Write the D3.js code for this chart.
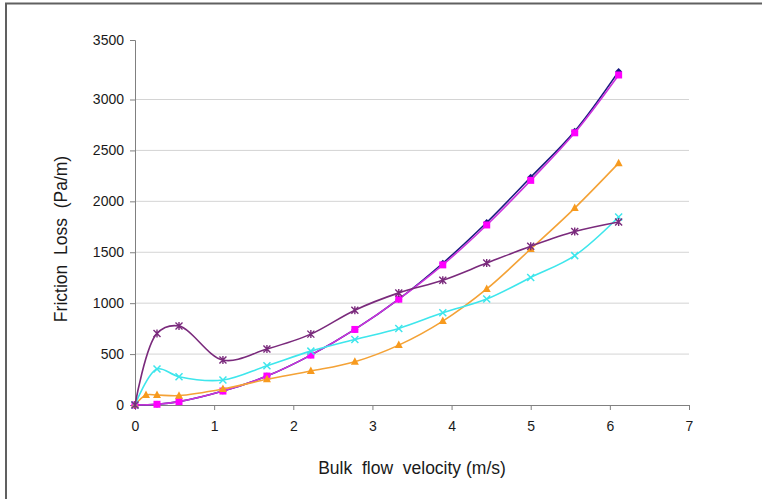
<!DOCTYPE html>
<html>
<head>
<meta charset="utf-8">
<script src="https://cdn.jsdelivr.net/npm/d3@7/dist/d3.min.js"></script>
<style>
  html, body { margin: 0; padding: 0; background: #fff; }
  svg { display: block; font-family: "Liberation Sans", Arial, sans-serif; }
</style>
</head>
<body>
<svg id="chart" width="762" height="499"></svg>
<script>
// ---- data ----
const velocity = [0, 0.278, 0.556, 1.111, 1.667, 2.222, 2.778, 3.333, 3.889, 4.444, 5.0, 5.556, 6.111];
const velocityOrange = [0, 0.139, 0.278, 0.556, 1.111, 1.667, 2.222, 2.778, 3.333, 3.889, 4.444, 5.0, 5.556, 6.111];
const navyValues    = [0, 7, 33, 137, 284, 490, 742, 1039, 1392, 1792, 2236, 2688, 3236];
const magentaValues = [0, 7, 33, 137, 284, 490, 742, 1039, 1376, 1768, 2206, 2673, 3206];
const orangeValues  = [0, 98, 98, 92, 157, 252, 333, 425, 588, 824, 1140, 1532, 1934, 2375];
const cyanValues    = [0, 353, 278, 245, 385, 529, 644, 752, 905, 1040, 1252, 1467, 1846];
const purpleValues  = [0, 703, 775, 441, 549, 696, 931, 1101, 1225, 1394, 1559, 1703, 1797];
const xTicks = [0, 1, 2, 3, 4, 5, 6, 7];
const yTicks = [0, 500, 1000, 1500, 2000, 2500, 3000, 3500];
const xTitle = "Bulk  flow  velocity (m/s)";
const yTitle = "Friction  Loss  (Pa/m)";

const series = [
  {xs: velocity, ys: navyValues, line: "#1a1a80", fill: "#1a1a80", marker: "diamond"},
  {xs: velocity, ys: magentaValues, line: "#cc33dd", fill: "#ff00ff", marker: "square"},
  {xs: velocityOrange, ys: orangeValues, line: "#f4a236", fill: "#f79a1e", marker: "triangle"},
  {xs: velocity, ys: cyanValues, line: "#3ee6ec", fill: "#3ee6ec", marker: "x"},
  {xs: velocity, ys: purpleValues, line: "#7a2a7c", fill: "#7a2a7c", marker: "star"}
];

// ---- layout ----
const svg = d3.select("#chart");
const x = d3.scaleLinear().domain([0, 7]).range([135, 689]);
// the picture's top interval (3000-3500) is drawn taller than the others
const y = d3.scaleLinear().domain([0, 3000, 3500]).range([405, 99.5, 40]);

// outer frame (left & top edges visible)
svg.append("path")
  .attr("d", "M6,499 L6,3.5 L762,3.5")
  .attr("fill", "none").attr("stroke", "#606060").attr("stroke-width", 2);

// gridlines
svg.append("g").selectAll("line").data(yTicks.filter(d => d > 0 && d < 3500)).join("line")
  .attr("x1", x(0)).attr("x2", x(7))
  .attr("y1", d => y(d)).attr("y2", d => y(d))
  .attr("stroke", "#d4d4d4").attr("stroke-width", 1);

// axes
const xAxis = d3.axisBottom(x).tickValues(xTicks).tickSize(5).tickPadding(11).tickFormat(d3.format("d"));
const gx = svg.append("g").attr("transform", `translate(0,${y(0)})`).call(xAxis);
const yAxis = d3.axisLeft(y).tickValues(yTicks).tickSize(5).tickPadding(6).tickFormat(d3.format("d"));
const gy = svg.append("g").attr("transform", `translate(${x(0)},0)`).call(yAxis);
[gx, gy].forEach(g => {
  g.select(".domain").attr("stroke", "#808080");
  g.selectAll(".tick line").attr("stroke", "#808080");
  g.selectAll(".tick text").attr("fill", "#1a1a1a").style("font-size", "14px")
    .style("font-family", "'Liberation Sans', Arial, sans-serif");
});

// titles
svg.append("text").attr("x", 412).attr("y", 474).attr("text-anchor", "middle")
  .style("white-space", "pre").style("font-size", "17.5px").attr("fill", "#1a1a1a").text(xTitle);
svg.append("text").attr("transform", "translate(67,239) rotate(-90)").attr("text-anchor", "middle")
  .style("white-space", "pre").style("font-size", "17.5px").attr("fill", "#1a1a1a").text(yTitle);

// series
const lineGen = d3.line().x(d => x(d[0])).y(d => y(d[1])).curve(d3.curveCatmullRom.alpha(0.5));
series.forEach(s => {
  const pts = s.xs.map((v, i) => [v, s.ys[i]]);
  const g = svg.append("g");
  g.append("path").attr("d", lineGen(pts)).attr("fill", "none")
    .attr("stroke", s.line).attr("stroke-width", 1.6);
  pts.forEach(p => {
    const cx = x(p[0]), cy = y(p[1]);
    if (s.marker === "square") {
      g.append("rect").attr("x", cx - 3.5).attr("y", cy - 3.5).attr("width", 7).attr("height", 7).attr("fill", s.fill);
    } else if (s.marker === "diamond") {
      g.append("path").attr("d", `M${cx},${cy-3.5}L${cx+3.5},${cy}L${cx},${cy+3.5}L${cx-3.5},${cy}Z`).attr("fill", s.fill);
    } else if (s.marker === "triangle") {
      g.append("path").attr("d", `M${cx},${cy-4.5}L${cx+4},${cy+3}L${cx-4},${cy+3}Z`).attr("fill", s.fill);
    } else if (s.marker === "x") {
      g.append("path").attr("d", `M${cx-3.5},${cy-3.5}L${cx+3.5},${cy+3.5}M${cx-3.5},${cy+3.5}L${cx+3.5},${cy-3.5}`)
        .attr("stroke", s.fill).attr("stroke-width", 1.5);
    } else if (s.marker === "star") {
      g.append("path").attr("d", `M${cx-3.5},${cy-3.5}L${cx+3.5},${cy+3.5}M${cx-3.5},${cy+3.5}L${cx+3.5},${cy-3.5}M${cx},${cy-4}L${cx},${cy+4}`)
        .attr("stroke", s.fill).attr("stroke-width", 1.4);
    }
  });
});
</script>
</body>
</html>
